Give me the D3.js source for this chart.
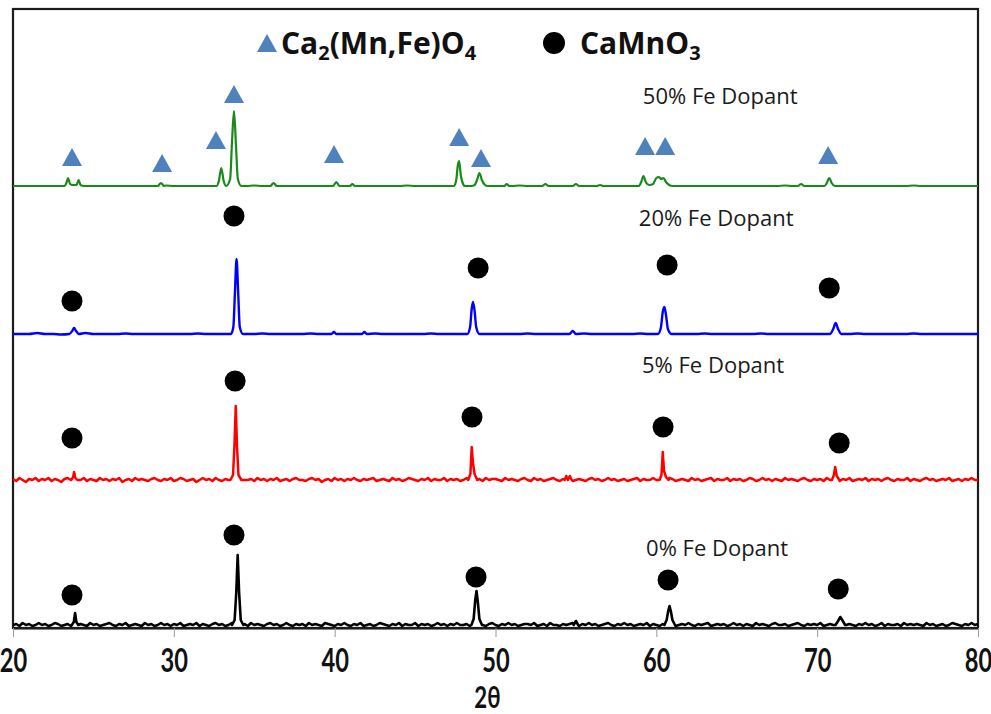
<!DOCTYPE html>
<html>
<head>
<meta charset="utf-8">
<script src="https://cdn.jsdelivr.net/npm/d3@7"></script>
<style>
  body { margin: 0; background: #fff; }
  text { font-family: "Open Sans", Lato, sans-serif; }
</style>
</head>
<body>
<svg id="chart" width="991" height="714"></svg>
<script>
// ---- XRD scans of Fe-doped CaMnO3 (intensity in a.u., stacked) ----
const xTicks = [20, 30, 40, 50, 60, 70, 80];
const sampleLabels = ["0% Fe Dopant", "5% Fe Dopant", "20% Fe Dopant", "50% Fe Dopant"];
const sampleColors = ["#000000", "#ff0000", "#0000ff", "#178a17"];
const sampleWidths = [2.6, 2.5, 2.4, 2.2];
const stackOffsets = [0, 145, 291, 439];
const scanStart = 20;
const scanSteps = [0.2, 0.2, 0.5, 0.5];

// background readings at regular 2θ steps
const base0 = [
  3,4,2,5,3,4,2,3,5,3, 4,2,3,5,4,2,3,4,2,5, 3,4,3,2,5,3,4,2,3,4, 5,3,2,4,3,5,2,3,4,3,
  2,5,3,4,2,3,5,3,4,2, 4,3,5,2,3,4,3,5,2,4, 3,2,4,5,3,4,2,3,5,4, 2,3,4,2,5,3,4,3,2,4,
  5,3,4,2,3,5,3,2,4,3, 4,2,5,3,4,3,2,5,4,3, 2,4,3,5,3,2,4,3,5,2, 3,4,2,3,5,4,3,2,4,3,
  5,2,4,3,3,5,2,4,3,4, 2,3,5,3,4,2,4,3,5,3, 3,4,2,5,3,4,3,2,4,5, 3,2,4,3,5,3,4,2,3,4,
  4,3,5,2,3,4,2,5,3,3, 2,4,3,4,5,3,2,4,3,5, 3,4,2,3,4,5,3,2,4,3, 5,3,4,2,3,4,3,5,2,4,
  3,2,4,5,3,4,2,3,4,3, 5,3,2,4,3,4,5,2,3,4, 3,4,2,3,5,3,4,2,4,3, 2,5,3,4,3,2,4,5,3,3,
  4,2,3,4,5,3,2,4,3,4, 3,5,2,3,4,3,4,2,5,3, 4,3,2,4,3,5,3,4,2,3, 5,2,4,3,3,4,2,5,3,4,
  3,4,3,2,5,3,4,2,3,4, 2,3,5,4,3,2,4,3,5,3, 4
];
const base1 = [
  4,2,5,3,1,4,3,5,2,4, 3,5,2,4,3,1,4,5,3,2, 4,3,5,2,4,3,2,5,3,4, 2,4,3,5,1,3,4,2,5,3,
  4,3,2,4,5,3,2,4,3,5, 2,3,5,4,2,3,4,1,3,5, 3,4,2,5,3,2,4,3,5,4, 2,5,3,3,4,2,5,3,4,2,
  4,3,5,2,3,4,2,4,5,3, 3,2,4,5,3,4,1,3,4,2, 5,3,4,2,4,3,5,3,2,4, 3,4,5,2,3,4,3,2,5,3,
  4,2,3,5,4,3,2,4,3,5, 2,4,3,3,5,2,4,3,4,2, 3,5,4,2,3,4,2,5,3,4, 4,3,2,5,3,4,3,2,4,5,
  3,2,5,3,4,2,3,4,5,3, 2,4,3,5,2,3,4,3,2,4, 5,3,4,2,3,5,3,4,2,3, 4,2,3,4,5,2,4,3,3,5,
  3,4,2,3,5,4,2,3,4,3, 2,5,3,4,2,3,4,5,2,4, 3,3,5,2,4,3,4,2,3,5, 4,2,3,5,3,4,2,4,3,2,
  5,3,4,3,2,4,5,3,2,4, 3,4,2,5,3,3,4,2,4,3, 5,2,3,4,3,5,2,4,3,4, 2,4,5,3,2,4,3,3,5,2,
  4,3,2,4,5,3,4,2,3,4, 3,5,2,3,4,2,4,3,5,3, 3
];
const base2 = [
  3,3,3,4,3,3,2.5,3,3,4, 3,3,3,3,3.5,3,3,3,3,3, 3,3,3,3.5,3,3,3,3,3,3, 3,3.5,3,3,3,3,3,3.5,3,3,
  3,3,3,3,3,3.5,3,3,3,3, 3,3,3.5,3,3,3,3,3,3,3, 3,3,3,3,3.5,3,3,3,3,3, 3,3.5,3,3,3,3,3,3,3.5,3,
  3,3,3,3,3,3,3.5,3,3,3, 3,3,3,3.5,3,3,3,3,3,3, 3,3,3,3,3,3.5,3,3,3,3, 3,3,3.5,3,3,3,3,3,3,3, 3
];
const base3 = [
  3,3,3,3,3,3,3,3.5,3,3, 3,3,3,3,3,3,3,3,3,3.5, 3,3,3,3,3,3,3,3,3,3, 3.5,3,3,3,3,3,3,3,3,3,
  3,3,3,3,3,3,3,3,3,3.5, 3,3,3,3,3,3,3,3,3,3, 3,3,3,3.5,3,3,3,3,3,3, 3,3,3,3,3,3,3,3,3,3,
  3,3.5,3,3,3,3,3,3,3,3, 3,3,3,3,3,3,3.5,3,3,3, 3,3,3,3,3,3,3,3,3,3, 3,3,3.5,3,3,3,3,3,3,3, 3
];

// reflections: [2θ, intensity] readings across each peak
const peaks0 = [
  [[23.66,3],[23.78,6],[23.86,15],[23.94,6],[24.06,3]],
  [[33.62,3],[33.78,8],[33.88,35],[33.97,73],[34.06,35],[34.16,8],[34.32,3]],
  [[48.50,3],[48.64,9],[48.74,28],[48.82,37],[48.90,26],[49.00,9],[49.16,3]],
  [[54.86,3],[55.00,7],[55.14,3]],
  [[60.50,3],[60.64,8],[60.74,17],[60.82,22],[60.90,17],[61.00,8],[61.16,3]],
  [[71.14,3],[71.30,7],[71.44,11],[71.56,8],[71.74,3]]
];
const peaks1 = [
  [[23.62,3],[23.74,6],[23.80,11],[23.88,5],[24.00,3]],
  [[33.52,3],[33.68,8],[33.77,38],[33.85,77],[33.93,36],[34.02,8],[34.20,3]],
  [[48.30,3],[48.44,9],[48.52,36],[48.60,20],[48.70,9],[48.86,3]],
  [[54.30,3],[54.40,7],[54.50,3],[54.62,7],[54.74,3]],
  [[60.20,3],[60.32,8],[60.40,31],[60.48,12],[60.60,6],[60.76,3]],
  [[70.92,3],[71.04,8],[71.12,16],[71.22,7],[71.38,3]]
];
const peaks2 = [
  [[23.50,3],[23.68,6],[23.80,9],[23.92,6],[24.10,3]],
  [[33.55,3],[33.70,10],[33.80,45],[33.90,78],[34.00,45],[34.10,10],[34.30,3]],
  [[39.80,3],[39.95,5],[40.10,3]],
  [[41.70,3],[41.85,5],[42.00,3]],
  [[48.25,3],[48.42,10],[48.52,28],[48.60,35],[48.70,26],[48.80,10],[49.00,3]],
  [[54.60,3],[54.80,6],[55.00,3]],
  [[60.10,3],[60.28,9],[60.40,25],[60.50,30],[60.60,22],[60.72,8],[60.95,3]],
  [[70.80,3],[71.00,8],[71.15,14],[71.30,8],[71.50,3]]
];
const peaks3 = [
  [[23.20,3],[23.32,6],[23.42,11],[23.55,5],[23.70,4],[23.95,4],[24.08,9],[24.20,4],[24.40,3]],
  [[29.00,3],[29.20,6],[29.40,3]],
  [[32.65,3],[32.80,8],[32.95,21],[33.10,8],[33.25,3],[33.50,10],[33.62,48],[33.74,78],[33.86,45],[33.98,10],[34.20,3]],
  [[36.00,3],[36.20,6],[36.40,3]],
  [[39.90,3],[40.10,7],[40.30,3]],
  [[40.95,3],[41.10,5],[41.25,3]],
  [[47.40,3],[47.55,8],[47.66,24],[47.74,28],[47.84,14],[47.96,6],[48.10,3]],
  [[48.70,4],[48.85,9],[49.00,16],[49.15,9],[49.35,4]],
  [[50.55,3],[50.70,5],[50.85,3]],
  [[52.90,3],[53.10,5],[53.30,3]],
  [[54.80,3],[55.00,5],[55.20,3]],
  [[56.30,3],[56.50,4],[56.70,3]],
  [[58.90,3],[59.06,7],[59.20,13],[59.34,7],[59.55,4],[59.80,5],[60.00,11],[60.15,12],[60.30,10],[60.45,11],[60.60,7],[60.80,4],[61.00,3]],
  [[68.80,3],[69.00,5],[69.20,3]],
  [[70.45,3],[70.60,6],[70.75,11],[70.90,6],[71.10,3]]
];

// phase markers (2θ, stacked intensity)
const spinelX = [23.67, 29.27, 32.62, 33.74, 39.96, 47.74, 49.10, 59.30, 60.55, 70.68];
const spinelY = [471, 465, 488, 534, 474, 491, 470, 482, 482, 473];
const perovX = [
  [23.67, 33.74, 48.79, 60.73, 71.31],
  [23.67, 33.81, 48.54, 60.42, 71.37],
  [23.67, 33.74, 48.92, 60.67, 70.75]
];
const perovY = [
  [33, 93, 51, 48, 39],
  [190, 247, 211, 201, 185],
  [327, 412, 360, 363, 340]
];
// sample label anchors (2θ, intensity)
const labelX = [63.78, 63.53, 63.72, 63.97];
const labelY = [72, 255, 402, 524];

// ---- layout ----
const svg = d3.select("#chart");
const plotLeft = 13, plotRight = 978, plotTop = 9, plotBottom = 628;
const x = d3.scaleLinear().domain([20, 80]).range([plotLeft, plotRight]);
const y = d3.scaleLinear().domain([0, 619]).range([plotBottom, plotTop]);

const bases = [base0, base1, base2, base3];
const peakSets = [peaks0, peaks1, peaks2, peaks3];
const curves = [d3.curveLinear, d3.curveLinear, d3.curveMonotoneX, d3.curveMonotoneX];

function buildScan(base, step, peaks) {
  const pts = [];
  base.forEach((v, i) => {
    const t = scanStart + i * step;
    const inPeak = peaks.some(c => t >= c[0][0] && t <= c[c.length - 1][0]);
    if (!inPeak) pts.push([t, v]);
  });
  peaks.forEach(c => c.forEach(p => pts.push(p)));
  pts.sort((a, b) => a[0] - b[0]);
  return pts;
}

// frame
svg.append("rect")
  .attr("x", plotLeft).attr("y", plotTop)
  .attr("width", plotRight - plotLeft).attr("height", plotBottom - plotTop)
  .attr("fill", "none").attr("stroke", "#1c1c1c").attr("stroke-width", 2.2);

// scans
const scans = svg.append("g");
bases.forEach((b, k) => {
  const pts = buildScan(b, scanSteps[k], peakSets[k]);
  const line = d3.line()
    .x(d => x(d[0]))
    .y(d => y(d[1] + stackOffsets[k]))
    .curve(curves[k]);
  scans.append("path")
    .datum(pts)
    .attr("d", line)
    .attr("fill", "none")
    .attr("stroke", sampleColors[k])
    .attr("stroke-width", sampleWidths[k])
    .attr("stroke-linejoin", "round");
});

// x axis
const xAxis = svg.append("g")
  .attr("transform", `translate(0,${plotBottom})`)
  .call(d3.axisBottom(x).tickValues(xTicks).tickSizeInner(9).tickSizeOuter(0).tickFormat(d3.format("d")));
xAxis.select(".domain").attr("stroke", "#1c1c1c").attr("stroke-width", 2.2);
xAxis.selectAll(".tick line").attr("stroke", "#9a9a9a").attr("stroke-width", 1);
xAxis.selectAll(".tick text")
  .attr("y", 44).attr("dy", 0)
  .attr("transform", "scale(0.74,1)")
  .style("font-family", "Lato, sans-serif")
  .style("font-weight", "700")
  .style("font-size", "32px")
  .attr("fill", "#111");

svg.append("text")
  .attr("transform", `translate(${x(49.5)},${plotBottom + 80}) scale(0.74,1)`)
  .attr("text-anchor", "middle")
  .style("font-family", "Lato, sans-serif")
  .style("font-weight", "700").style("font-size", "30px")
  .attr("fill", "#111")
  .text("2θ");

// phase markers
const triW = 20, triH = 18;
const triPath = (cx, cy) =>
  `M${cx - triW / 2},${cy + triH / 2}L${cx + triW / 2},${cy + triH / 2}L${cx},${cy - triH / 2}Z`;

svg.append("g").selectAll("path")
  .data(spinelX.map((v, i) => [v, spinelY[i]]))
  .join("path")
  .attr("d", d => triPath(x(d[0]), y(d[1])))
  .attr("fill", "#4f81bd");

const circles = [];
perovX.forEach((row, k) => row.forEach((v, i) => circles.push([v, perovY[k][i]])));
svg.append("g").selectAll("circle")
  .data(circles)
  .join("circle")
  .attr("cx", d => x(d[0])).attr("cy", d => y(d[1]))
  .attr("r", 10.5).attr("fill", "#000");

// sample labels
svg.append("g").selectAll("text")
  .data(sampleLabels)
  .join("text")
  .attr("x", (d, i) => x(labelX[i]))
  .attr("y", (d, i) => y(labelY[i]))
  .attr("text-anchor", "middle")
  .style("font-size", "22px")
  .attr("fill", "#1a1a1a")
  .text(d => d);

// legend
const legend = svg.append("g");
legend.append("path").attr("d", triPath(267, 43)).attr("fill", "#4f81bd");
const t1 = legend.append("text").attr("x", 281).attr("y", 54)
  .style("font-weight", "700").style("font-size", "30px").attr("fill", "#111");
t1.append("tspan").text("Ca");
t1.append("tspan").attr("dy", 6).style("font-size", "20px").text("2");
t1.append("tspan").attr("dy", -6).text("(Mn,Fe)O");
t1.append("tspan").attr("dy", 6).style("font-size", "20px").text("4");

legend.append("circle").attr("cx", 554).attr("cy", 43).attr("r", 11).attr("fill", "#000");
const t2 = legend.append("text").attr("x", 580).attr("y", 54)
  .style("font-weight", "700").style("font-size", "30px").attr("fill", "#111");
t2.append("tspan").text("CaMnO");
t2.append("tspan").attr("dy", 6).style("font-size", "20px").text("3");
</script>
</body>
</html>
